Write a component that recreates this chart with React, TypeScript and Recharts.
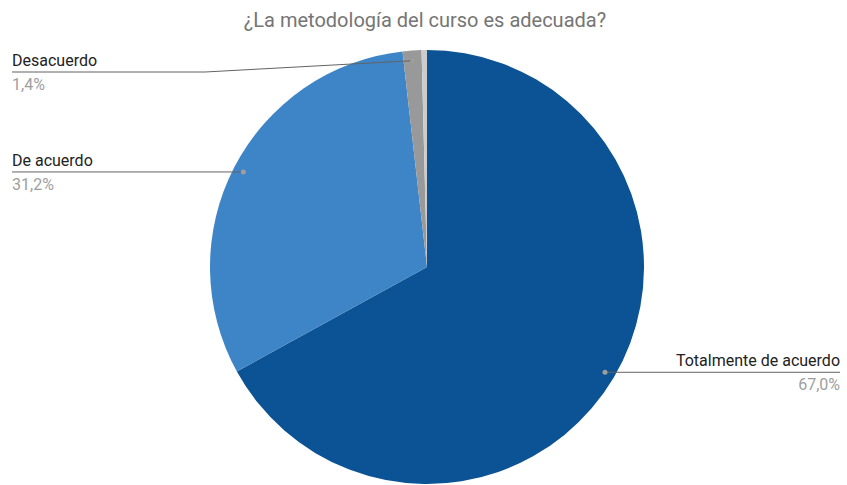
import { PieChart, Pie, Cell } from 'recharts'

const TITLE = '¿La metodología del curso es adecuada?'

const categories = ['Totalmente de acuerdo', 'De acuerdo', 'Desacuerdo', 'Totalmente en desacuerdo']
const shares = [67.0, 31.2, 1.4, 0.4]
const COLORS = ['#0b5394', '#3d85c6', '#999999', '#cccccc']

const data = categories.map((name, i) => ({ name, value: shares[i] }))

const RAD = Math.PI / 180

const fmt = (v: number) => v.toFixed(1).replace('.', ',') + '%'

function renderLabel(props: any) {
  const { cx, cy, midAngle, outerRadius, name, value } = props
  if (value < 1) return null
  const r = outerRadius * 0.953
  const dx = cx + r * Math.cos(-midAngle * RAD)
  const dy = cy + r * Math.sin(-midAngle * RAD)
  const lineY = Math.max(dy, cy - outerRadius + 22)
  const left = dx < cx
  const elbowX = left ? cx - outerRadius - 5 : cx + outerRadius + 5
  const endX = left ? 12 : 840
  const anchor = left ? 'start' : 'end'
  return (
    <g>
      <polyline
        points={`${dx},${dy} ${elbowX},${lineY} ${endX},${lineY}`}
        fill="none"
        stroke="#636363"
        strokeWidth={1}
      />
      <circle cx={dx} cy={dy} r={2.5} fill="#9e9e9e" />
      <text x={endX} y={lineY - 6} textAnchor={anchor} fontSize={16} fill="#222222" fontFamily="Roboto">
        {name}
      </text>
      <text x={endX} y={lineY + 18} textAnchor={anchor} fontSize={16} fill="#9e9e9e" fontFamily="Roboto">
        {fmt(value)}
      </text>
    </g>
  )
}

export default function App() {
  return (
    <div style={{ position: 'absolute', left: 0, top: 0, width: 847, height: 485, background: '#fff', fontFamily: 'Roboto' }}>
      <svg width={847} height={40} style={{ position: 'absolute', left: 0, top: 0 }}>
        <text x={425} y={27} textAnchor="middle" fontSize={20} fill="#757575" fontFamily="Roboto">
          {TITLE}
        </text>
      </svg>
      <PieChart width={847} height={485} margin={{ top: 0, right: 0, bottom: 0, left: 0 }}>
        <Pie
          data={data}
          dataKey="value"
          nameKey="name"
          cx={427}
          cy={267}
          outerRadius={217}
          startAngle={90}
          endAngle={-270}
          stroke="none"
          labelLine={false}
          label={renderLabel}
          isAnimationActive={false}
        >
          {data.map((_, i) => (
            <Cell key={`cell-${i}`} fill={COLORS[i]} />
          ))}
        </Pie>
      </PieChart>
    </div>
  )
}
